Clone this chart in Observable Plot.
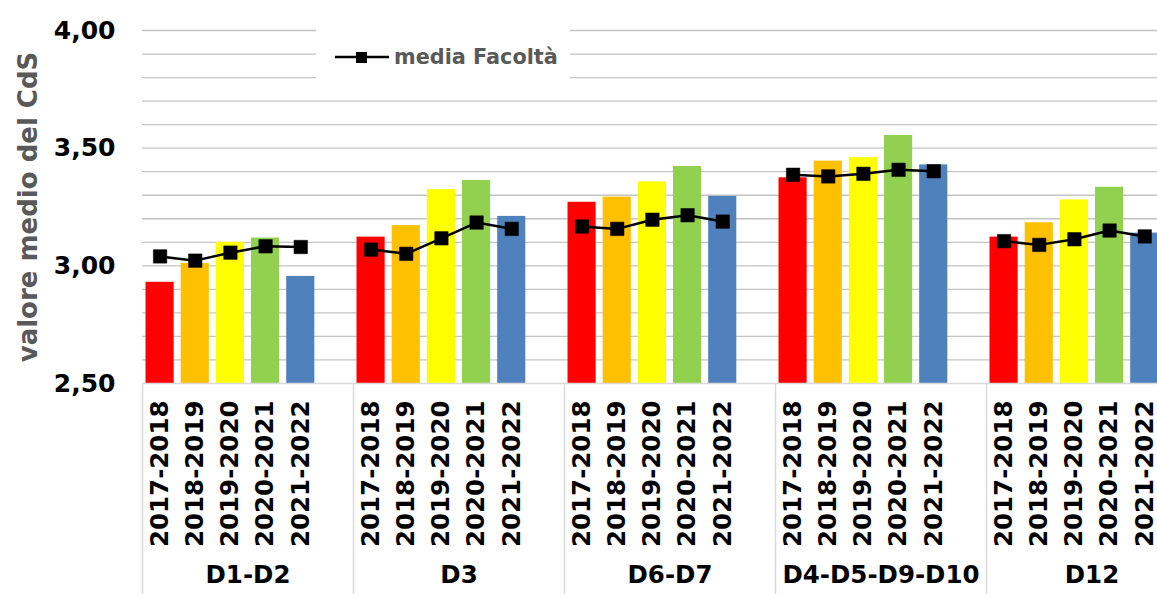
<!DOCTYPE html>
<html>
<head>
<meta charset="utf-8">
<script src="https://cdn.jsdelivr.net/npm/d3@7"></script>
<script src="https://cdn.jsdelivr.net/npm/@observablehq/plot@0.6"></script>
<style>
  html, body { margin: 0; padding: 0; background: #fff; overflow: hidden; }
  #wrap { position: relative; width: 1157px; height: 594px; overflow: hidden; }
  #wrap > svg { max-width: none !important; display: block; }
  #legend {
    position: absolute; left: 316px; top: 26px; width: 254px; height: 62px;
    background: #fff; display: flex; align-items: center;
    font-family: "DejaVu Sans", Verdana, sans-serif; font-weight: bold;
    font-size: 20.8px; color: #595959;
  }
  #legend svg { margin-left: 19px; margin-right: 5px; }
</style>
</head>
<body>
<div id="wrap"></div>
<script>
const groups = ["D1-D2", "D3", "D6-D7", "D4-D5-D9-D10", "D12"];
const years = ["2017-2018", "2018-2019", "2019-2020", "2020-2021", "2021-2022"];
const yearColors = ["#FF0000", "#FFC000", "#FFFF00", "#92D050", "#4F81BD"];

// valore medio del CdS, per gruppo (one value per year)
const cdsD1D2 = [2.93, 3.01, 3.10, 3.118, 2.955];
const cdsD3 = [3.122, 3.171, 3.324, 3.363, 3.21];
const cdsD6D7 = [3.27, 3.292, 3.357, 3.422, 3.295];
const cdsD4D5D9D10 = [3.374, 3.445, 3.46, 3.554, 3.429];
const cdsD12 = [3.122, 3.183, 3.28, 3.334, 3.139];

// media Facoltà, per gruppo
const mediaD1D2 = [3.04, 3.022, 3.056, 3.083, 3.08];
const mediaD3 = [3.069, 3.051, 3.117, 3.184, 3.157];
const mediaD6D7 = [3.167, 3.157, 3.196, 3.215, 3.188];
const mediaD4D5D9D10 = [3.387, 3.38, 3.391, 3.408, 3.402];
const mediaD12 = [3.105, 3.089, 3.113, 3.15, 3.125];

const yTickLabels = [2.5, 3.0, 3.5, 4.0];
const yLabel = "valore medio del CdS";
const legendLabel = "media Facoltà";

const cdsByGroup = [cdsD1D2, cdsD3, cdsD6D7, cdsD4D5D9D10, cdsD12];
const mediaByGroup = [mediaD1D2, mediaD3, mediaD6D7, mediaD4D5D9D10, mediaD12];

const slotsPerGroup = years.length + 1; // one empty slot after each group
const data = [];
groups.forEach((g, gi) => {
  years.forEach((y, yi) => {
    data.push({
      group: g, year: y, yi,
      pos: gi * slotsPerGroup + yi,
      cds: cdsByGroup[gi][yi],
      media: mediaByGroup[gi][yi]
    });
  });
});

const font = "DejaVu Sans, Verdana, sans-serif";
const W = 1197, H = 594, mL = 142, mT = 30, mB = 211;
const totalSlots = groups.length * slotsPerGroup;

const chart = Plot.plot({
  width: W,
  height: H,
  marginLeft: mL,
  marginRight: 0,
  marginTop: mT,
  marginBottom: mB,
  style: { fontFamily: font, background: "white", overflow: "visible", maxWidth: "none" },
  x: { domain: [0, totalSlots] },
  y: { domain: [2.5, 4.0] },
  marks: [
    Plot.gridY(d3.range(26, 41).map(v => v / 10), { stroke: "#c4c4c4", strokeOpacity: 1, strokeWidth: 1.3 }),
    Plot.rectY(data, {
      x1: d => d.pos + 0.1,
      x2: d => d.pos + 0.9,
      y1: 2.5,
      y2: "cds",
      fill: d => yearColors[d.yi]
    }),
    Plot.ruleY([2.5], { stroke: "#d9d9d9", strokeWidth: 1.5 }),
    Plot.ruleX(d3.range(groups.length + 1).map(i => i * slotsPerGroup), {
      y1: 2.5, y2: 2.5, insetBottom: -mB, stroke: "#d9d9d9", strokeWidth: 1.5
    }),
    Plot.line(data, {
      x: d => d.pos + 0.5, y: "media", z: "group",
      stroke: "black", strokeWidth: 2.5
    }),
    Plot.dot(data, {
      x: d => d.pos + 0.5, y: "media",
      symbol: "square", r: 7.6, fill: "black", stroke: "black", strokeWidth: 0.5
    }),
    Plot.axisY(yTickLabels, {
      tickSize: 0, tickPadding: 27,
      tickFormat: d => d.toFixed(2).replace(".", ","),
      fontSize: 25, fontWeight: "bold", fill: "black", label: null
    }),
    Plot.text([yLabel], {
      frameAnchor: "left", textAnchor: "middle", rotate: -90, dx: -114,
      fontSize: 26, fontWeight: "bold", fill: "#595959"
    }),
    Plot.axisX(data.map(d => d.pos + 0.5), {
      tickSize: 0, tickPadding: 17, tickRotate: -90,
      tickFormat: p => years[Math.floor(p) % slotsPerGroup],
      fontSize: 24.5, fontWeight: "bold", fill: "black", label: null
    }),
    Plot.text(groups, {
      x: (d, i) => i * slotsPerGroup + slotsPerGroup / 2,
      frameAnchor: "bottom", dy: 199,
      fontSize: 24.5, fontWeight: "bold", fill: "black"
    })
  ]
});

const wrap = document.getElementById("wrap");
wrap.appendChild(chart);

const legend = document.createElement("div");
legend.id = "legend";
legend.innerHTML = `<svg width="54" height="14"><line x1="0" y1="7" x2="54" y2="7" stroke="black" stroke-width="2.5"/><rect x="21" y="2" width="11" height="11" fill="black"/></svg><span>${legendLabel}</span>`;
wrap.appendChild(legend);
</script>
</body>
</html>
